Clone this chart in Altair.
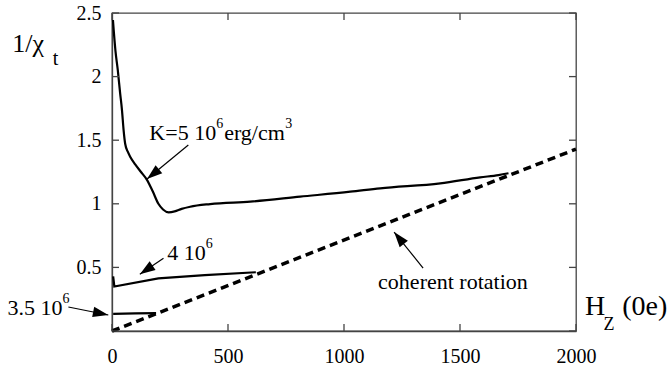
import math
import altair as alt
import pandas as pd

# ---- data ----
H5 = [4, 15, 25, 35, 43, 50, 57, 68, 79, 100, 125, 150, 175, 200, 220, 244, 270, 300, 337, 423, 596, 811, 1027, 1156, 1415, 1587, 1666, 1709]
V5 = [2.445, 2.2, 2.05, 1.87, 1.737, 1.58, 1.47, 1.41, 1.368, 1.31, 1.25, 1.19, 1.10, 1.0, 0.955, 0.933, 0.94, 0.96, 0.977, 0.998, 1.017, 1.056, 1.095, 1.122, 1.161, 1.208, 1.226, 1.24]
H4 = [5, 10, 200, 400, 620]
V4 = [0.43, 0.35, 0.414, 0.44, 0.462]
H35 = [5, 100, 190]
V35 = [0.135, 0.138, 0.14]
HC = [0, 2000]
VC = [0, 1.43]

X_TICKS = [0, 500, 1000, 1500, 2000]
Y_TICKS = [0, 0.5, 1, 1.5, 2, 2.5]
Y_LABELS = [0.5, 1, 1.5, 2, 2.5]

# annotation texts as (piece, is_superscript)
ANN_PIECES = [
    [("K=5 10", False), ("6", True), ("erg/cm", False), ("3", True)],
    [("4 10", False), ("6", True)],
    [("3.5 10", False), ("6", True)],
    [("coherent rotation", False)],
]
ANN_H = [161, 238, -450, 1147]
ANN_V = [1.557, 0.613, 0.181, 0.385]

ARR_H1 = [329, 222, -188, 1341]
ARR_V1 = [1.462, 0.5715, 0.1887, 0.495]
ARR_H2 = [151, 120, -16, 1216]
ARR_V2 = [1.195, 0.4458, 0.126, 0.778]

W, HT = 464, 318
XD, YD = [0, 2000], [0, 2.5]
FONT = "Liberation Serif, serif"
MAIN_SIZE, SUP_SIZE = 22, 14

sx = W / (XD[1] - XD[0])
sy = HT / (YD[1] - YD[0])

# Times / Liberation Serif advance widths (em)
CW = {"K": .722, "=": .564, " ": .25, ".": .25, "/": .278, "e": .444, "r": .333, "g": .5,
      "c": .444, "m": .778, "o": .5, "h": .5, "n": .5, "t": .278, "a": .444, "i": .278}
def text_width(s, size):
    return sum(CW.get(ch, .5) for ch in s) * size

xs = alt.Scale(domain=XD, nice=False, zero=False)
ys = alt.Scale(domain=YD, nice=False, zero=False)

def series(h, v):
    return pd.DataFrame({"H": h, "v": v})

lab = dict(labelFont=FONT, labelFontSize=20, labelColor="black", ticks=False, tickSize=0,
           grid=False, labelFlush=False, labelOverlap=False,
           domainColor="#444", domainWidth=1.3)
x_enc = alt.X("H:Q", scale=xs, title=None,
              axis=alt.Axis(values=X_TICKS, format="d", labelPadding=15, **lab))
y_enc = alt.Y("v:Q", scale=ys, title=None,
              axis=alt.Axis(values=Y_LABELS, format="~g", labelPadding=11, **lab))

def line(h, v, **kw):
    return alt.Chart(series(h, v)).mark_line(color="black", **kw).encode(x=x_enc, y=y_enc)

l5 = line(H5, V5, strokeWidth=2.2, interpolate="monotone")
l4 = line(H4, V4, strokeWidth=2.2)
l35 = line(H35, V35, strokeWidth=2.2)
lc = line(HC, VC, strokeWidth=3.5, strokeDash=[8, 5])

# inward ticks on all four sides
xt = pd.DataFrame({"H": X_TICKS})
yt = pd.DataFrame({"v": Y_TICKS})
tk = dict(color="#444", strokeWidth=1.3)
tb = alt.Chart(xt).mark_rule(**tk).encode(x="H:Q", y=alt.value(HT), y2=alt.value(HT - 7))
tt = alt.Chart(xt).mark_rule(**tk).encode(x="H:Q", y=alt.value(0), y2=alt.value(7))
tl = alt.Chart(yt).mark_rule(**tk).encode(y="v:Q", x=alt.value(0), x2=alt.value(7))
tr = alt.Chart(yt).mark_rule(**tk).encode(y="v:Q", x=alt.value(W), x2=alt.value(W - 7))

# annotation pieces laid out left to right
rows = []
for pieces, h0, v0 in zip(ANN_PIECES, ANN_H, ANN_V):
    px = 0.0
    for s, sup in pieces:
        size = SUP_SIZE if sup else MAIN_SIZE
        rows.append({"t": s, "H": h0 + px / sx, "v": v0 + (9 / sy if sup else 0), "s": size})
        px += text_width(s, size) + (1 if sup else 0)
ann = pd.DataFrame(rows)

# axis titles drawn as text
YT_TEXT = ["1/χ", "t"]
YT_H = [-430, -255]
YT_V = [2.256, 2.135]
YT_SIZE = [26, 20]
XT_TEXT = ["H", "Z", "(0e)"]
XT_H = [2039, 2118, 2199]
XT_V = [0.189, 0.047, 0.189]
XT_SIZE = [28, 18, 28]
ytd = pd.DataFrame({"t": YT_TEXT, "H": YT_H, "v": YT_V, "s": YT_SIZE})
xtd = pd.DataFrame({"t": XT_TEXT, "H": XT_H, "v": XT_V, "s": XT_SIZE})

texts = alt.Chart(pd.concat([ann, ytd, xtd], ignore_index=True)).mark_text(
    font=FONT, align="left", baseline="middle", color="black").encode(
    x="H:Q", y="v:Q", text="t:N", size=alt.Size("s:Q", scale=None))

arr = pd.DataFrame({"H": ARR_H1, "v": ARR_V1, "H2": ARR_H2, "v2": ARR_V2})
arr["angle"] = [
    (math.degrees(math.atan2((h2 - h1) * sx, (v2 - v1) * sy)) + 360) % 360
    for h1, v1, h2, v2 in zip(ARR_H1, ARR_V1, ARR_H2, ARR_V2)
]
shafts = alt.Chart(arr).mark_rule(color="black", strokeWidth=1.2).encode(
    x="H:Q", y="v:Q", x2="H2:Q", y2="v2:Q")
heads = alt.Chart(arr).mark_point(shape="M0,0L0.75,2.2L-0.75,2.2Z", filled=True, color="black",
                                  opacity=1, size=196, strokeWidth=0).encode(
    x="H2:Q", y="v2:Q", angle=alt.Angle("angle:Q", scale=None))

chart = alt.layer(l5, l4, l35, lc, tb, tt, tl, tr, shafts, heads, texts).properties(
    width=W, height=HT,
    autosize=alt.AutoSizeParams(type="none"),
    padding={"left": 112, "top": 13, "right": 95, "bottom": 41},
    background="white",
).configure_view(stroke="#444", strokeWidth=1.3).configure_axis(
    labelFont=FONT, labelFontSize=20, labelColor="black",
    domainColor="#444", domainWidth=1.3,
)

chart.save("out.html", embed_options={"renderer": "svg", "actions": False})
